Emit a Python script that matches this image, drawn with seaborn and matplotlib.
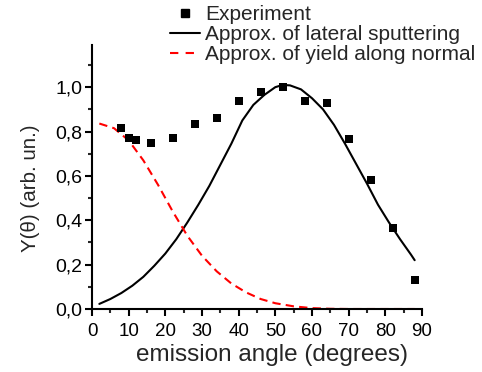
import numpy as np
import pandas as pd
import matplotlib
matplotlib.use("Agg")
import matplotlib.pyplot as plt
import seaborn as sns
from matplotlib.ticker import MultipleLocator, FuncFormatter
from matplotlib.lines import Line2D

# Experimental points
exp_angle = [8, 10, 12, 16, 22, 28, 34, 40, 46, 52, 58, 64, 70, 76, 82, 88]
exp_yield = [0.817, 0.773, 0.761, 0.749, 0.773, 0.835, 0.860, 0.938, 0.980,
             1.000, 0.938, 0.929, 0.766, 0.580, 0.363, 0.130]

# Approximation of lateral sputtering (black solid)
lat_angle = [2, 5, 8, 11, 14, 17, 20, 23, 26, 29, 32, 35, 38, 41, 44, 47, 50,
             52, 54, 57, 60, 63, 66, 69, 72, 75, 78, 81, 84, 87, 88]
lat_yield = [0.023, 0.045, 0.072, 0.105, 0.145, 0.195, 0.250, 0.315, 0.390, 0.470,
             0.555, 0.650, 0.745, 0.850, 0.920, 0.965, 1.000, 1.010, 1.008, 0.990,
             0.950, 0.900, 0.830, 0.745, 0.655, 0.565, 0.470, 0.390, 0.315, 0.245, 0.220]

# Approximation of yield along normal (red dashed)
norm_angle = [2, 6, 10, 14, 18, 22, 26, 30, 34, 38, 42, 46, 50, 55, 60, 65, 70, 75, 80, 85, 88]
norm_yield = [0.836, 0.815, 0.760, 0.670, 0.560, 0.440, 0.330, 0.240, 0.170, 0.115,
              0.075, 0.045, 0.026, 0.012, 0.004, 0.001, 0.0, 0.0, 0.0, 0.0, 0.0]

df_exp = pd.DataFrame({"angle": exp_angle, "yield": exp_yield})
df_lat = pd.DataFrame({"angle": lat_angle, "yield": lat_yield})
df_norm = pd.DataFrame({"angle": norm_angle, "yield": norm_yield})

sns.set_style("ticks")
plt.rcParams["font.family"] = ["Liberation Sans", "DejaVu Sans"]

fig = plt.figure(figsize=(4.82, 3.72), dpi=100)
ax = fig.add_axes([92/482, 1 - 309/372, 330/482, 264/372])

sns.lineplot(data=df_lat, x="angle", y="yield", ax=ax, color="black", lw=1.5)
sns.lineplot(data=df_norm, x="angle", y="yield", ax=ax, color="#ff0000", lw=1.5,
             linestyle=(0, (4, 2.5)))
sns.scatterplot(data=df_exp, x="angle", y="yield", ax=ax, marker="s", color="black",
                s=30, edgecolor="black", linewidth=0, zorder=5)

ax.set_xlim(0, 90)
ax.set_ylim(0, 1.19)
ax.xaxis.set_major_locator(MultipleLocator(10))
ax.xaxis.set_minor_locator(MultipleLocator(5))
ax.yaxis.set_major_locator(MultipleLocator(0.2))
ax.yaxis.set_minor_locator(MultipleLocator(0.1))
ax.yaxis.set_major_formatter(FuncFormatter(lambda v, p: f"{v:.1f}".replace(".", ",")))
ax.tick_params(axis="both", which="major", length=5, width=1.5, colors="black")
ax.tick_params(axis="x", which="major", labelsize=13.5, pad=5)
ax.tick_params(axis="y", which="major", labelsize=14, pad=2)
ax.tick_params(axis="both", which="minor", length=3, width=1.5)
for s in ["top", "right"]:
    ax.spines[s].set_visible(False)
for s in ["left", "bottom"]:
    ax.spines[s].set_linewidth(1.5)
    ax.spines[s].set_color("black")

ax.set_xlabel("emission angle (degrees)", fontsize=17.5)
ax.set_ylabel("Y(θ) (arb. un.)", fontsize=14.8)
ax.xaxis.set_label_coords(0.545, -0.132)
ax.yaxis.set_label_coords(-0.158, 0.458)

handles = [
    Line2D([], [], marker="s", color="black", linestyle="none", markersize=5.5),
    Line2D([], [], color="black", lw=1.5),
    Line2D([], [], color="#ff0000", lw=1.5, linestyle=(0, (4, 3.5))),
]
labels = ["Experiment", "Approx. of lateral sputtering", "Approx. of yield along normal"]
fig.legend(handles, labels, loc="upper left", bbox_to_anchor=(170/482, 1 - 5/372),
           frameon=False, fontsize=15, handlelength=1.45, handletextpad=0.25,
           labelspacing=0.05, borderpad=0, borderaxespad=0)

fig.savefig("out.png", dpi=100)
